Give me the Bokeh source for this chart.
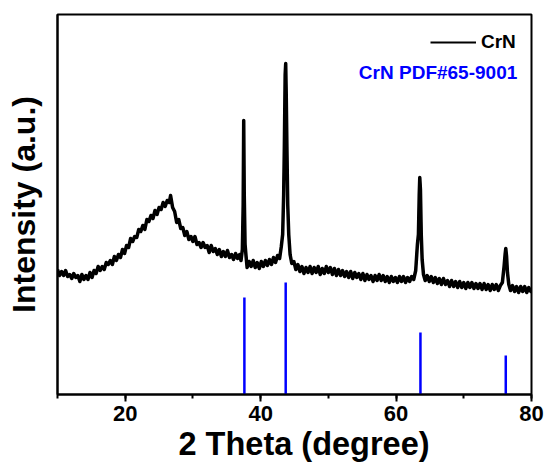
from bokeh.plotting import figure
from bokeh.models import (Range1d, SingleIntervalTicker, FixedTicker, Legend,
                          LegendItem, Label, Title)
from bokeh.embed import file_html
from bokeh.resources import INLINE

# ---- data ----
two_theta = [
    10.0, 10.3, 10.6, 10.9, 11.2, 11.5, 11.8, 12.1, 12.4, 12.7, 13.0, 13.3, 13.6, 13.9,
    14.2, 14.5, 14.8, 15.1, 15.4, 15.7, 16.0, 16.3, 16.6, 16.9, 17.2, 17.5, 17.8, 18.1,
    18.4, 18.7, 19.0, 19.3, 19.6, 19.9, 20.2, 20.5, 20.8, 21.1, 21.4, 21.7, 22.0, 22.3,
    22.6, 22.9, 23.2, 23.5, 23.8, 24.1, 24.4, 24.7, 25.0, 25.3, 25.6, 25.9, 26.2, 26.5,
    26.7, 27.0, 27.3, 27.6, 27.9, 28.2, 28.5, 28.8, 29.1, 29.4, 29.7, 30.0, 30.3, 30.6,
    30.9, 31.2, 31.5, 31.8, 32.1, 32.4, 32.7, 33.0, 33.3, 33.6, 33.9, 34.2, 34.5, 34.8,
    35.1, 35.4, 35.7, 36.0, 36.3, 36.6, 36.9, 37.1,
    37.3, 37.42, 37.5, 37.58, 37.7, 37.85,
    38.0, 38.3, 38.6, 38.9, 39.2, 39.5, 39.8, 40.1, 40.4, 40.7, 41.0, 41.3, 41.6, 41.9,
    42.2, 42.5, 42.8,
    43.05, 43.25, 43.4, 43.5, 43.62, 43.7, 43.78, 43.88, 44.0, 44.15, 44.35, 44.6,
    44.9, 45.2, 45.5, 45.8, 46.1, 46.4, 46.7, 47.0, 47.3, 47.6, 47.9, 48.2, 48.5, 48.8,
    49.1, 49.4, 49.7, 50.0, 50.3, 50.6, 50.9, 51.2, 51.5, 51.8, 52.1, 52.4, 52.7, 53.0,
    53.3, 53.6, 53.9, 54.2, 54.5, 54.8, 55.1, 55.4, 55.7, 56.0, 56.3, 56.6, 56.9, 57.2,
    57.5, 57.8, 58.1, 58.4, 58.7, 59.0, 59.3, 59.6, 59.9, 60.2, 60.5, 60.8, 61.1, 61.4,
    61.7, 62.0, 62.3, 62.6,
    62.9, 63.15, 63.3, 63.42, 63.5, 63.6, 63.72, 63.85, 64.05,
    64.3, 64.6, 64.9, 65.2, 65.5, 65.8, 66.1, 66.4, 66.7, 67.0, 67.3, 67.6, 67.9, 68.2,
    68.5, 68.8, 69.1, 69.4, 69.7, 70.0, 70.3, 70.6, 70.9, 71.2, 71.5, 71.8, 72.1, 72.4,
    72.7, 73.0, 73.3, 73.6, 73.9, 74.2, 74.5, 74.8, 75.1, 75.4,
    75.7, 75.95, 76.1, 76.2, 76.32, 76.45, 76.65,
    76.9, 77.2, 77.5, 77.8, 78.1, 78.4, 78.7, 79.0, 79.3, 79.6, 79.9, 80.0,
]
intensity = [
    125, 119, 123, 119, 124, 118, 120, 116, 121, 117, 119, 113, 120, 115,
    119, 115, 122, 117, 124, 121, 128, 124, 128, 125, 132, 130, 134, 130,
    138, 134, 140, 137, 145, 141, 149, 147, 156, 153, 158, 157, 165, 163,
    169, 165, 175, 173, 179, 176, 184, 180, 187, 185, 192, 188, 194, 192,
    199, 187, 183, 172, 175, 166, 167, 159, 163, 155, 158, 153, 158, 150,
    152, 147, 152, 147, 149, 142, 149, 143, 146, 140, 145, 138, 143, 138,
    144, 137, 140, 135, 141, 136, 140, 134,
    145, 190, 274, 200, 150, 138,
    127, 133, 128, 134, 127, 132, 126, 133, 128, 134, 129, 135, 130, 137,
    132, 139, 136,
    148, 160, 200, 247, 320, 331, 300, 247, 190, 160, 140, 131,
    133, 125, 130, 123, 128, 121, 127, 122, 128, 121, 127, 122, 128, 120,
    126, 121, 128, 122, 127, 120, 126, 119, 125, 119, 124, 118, 123, 117,
    123, 116, 122, 117, 121, 115, 121, 114, 120, 115, 119, 113, 119, 114,
    120, 114, 119, 113, 118, 112, 118, 113, 117, 112, 118, 113, 118, 112,
    117, 113, 118, 115,
    124, 150, 160, 200, 217, 205, 160, 135, 120,
    114, 119, 113, 118, 112, 117, 111, 116, 110, 116, 110, 114, 108, 114,
    108, 113, 107, 113, 107, 112, 106, 112, 107, 112, 106, 111, 106, 111,
    105, 111, 105, 110, 104, 110, 105, 110, 104, 109,
    112, 128, 140, 146, 138, 122, 110,
    104, 109, 103, 108, 102, 108, 103, 108, 102, 107, 103, 105,
]
pdf_positions = [37.6, 43.7, 63.6, 76.2]
pdf_intensity = [97, 112, 62, 39]
pdf_base = [0, 0, 0, 0]

FONT = "Liberation Sans"

p = figure(width=547, height=467, output_backend="svg", toolbar_location=None,
           x_range=Range1d(10, 80), y_range=Range1d(0, 380),
           min_border_left=57, min_border_right=16, min_border_top=14,
           min_border_bottom=73)
p.background_fill_color = "white"
p.border_fill_color = "white"
p.outline_line_color = "black"
p.outline_line_width = 2
p.xgrid.visible = False
p.ygrid.visible = False

# thin copy (legend sample) + thicker copy (noisy band look)
legend_r = p.line(two_theta, intensity, line_color="black", line_width=2)
p.line(two_theta, intensity, line_color="black", line_width=3.5, line_join="round")
p.segment(x0=pdf_positions, y0=pdf_base, x1=pdf_positions, y1=pdf_intensity,
          line_color="#0000FF", line_width=2.5)

xa = p.xaxis[0]
xa.ticker = SingleIntervalTicker(interval=20, num_minor_ticks=2)
xa.axis_line_width = 2
xa.major_tick_line_width = 2
xa.minor_tick_line_width = 2
xa.major_tick_in = 0
xa.major_tick_out = 7
xa.minor_tick_in = 0
xa.minor_tick_out = 4
xa.major_label_standoff = 4
xa.major_label_text_font = FONT
xa.major_label_text_font_style = "bold"
xa.major_label_text_font_size = "22px"
xa.major_label_text_color = "black"

xtitle = Title(text="2 Theta (degree)", align="left", offset=121, standoff=0,
               text_font=FONT, text_font_style="bold", text_font_size="32.5px",
               text_color="black")
p.add_layout(xtitle, "below")

ya = p.yaxis[0]
ya.ticker = FixedTicker(ticks=[])
ya.axis_line_width = 2
ya.major_tick_line_color = None
ya.minor_tick_line_color = None
ya.axis_label = "Intensity (a.u.)"
ya.axis_label_text_font = FONT
ya.axis_label_text_font_style = "bold"
ya.axis_label_text_font_size = "32px"
ya.axis_label_text_color = "black"
ya.axis_label_standoff = 16

legend = Legend(items=[LegendItem(label="CrN", renderers=[legend_r])],
                location=(373, 341))
legend.label_text_font = FONT
legend.label_text_font_style = "bold"
legend.label_text_font_size = "19px"
legend.label_text_color = "black"
legend.glyph_width = 46
legend.glyph_height = 18
legend.label_standoff = 5
legend.padding = 0
legend.margin = 0
legend.border_line_color = None
legend.background_fill_alpha = 0
p.add_layout(legend)

p.add_layout(Label(x=77.9, y=322, text="CrN PDF#65-9001", text_align="right",
                   text_baseline="alphabetic", text_font=FONT,
                   text_font_style="bold", text_font_size="19px",
                   text_color="#0000FF"))

open("out.html", "w").write(file_html(p, INLINE))
